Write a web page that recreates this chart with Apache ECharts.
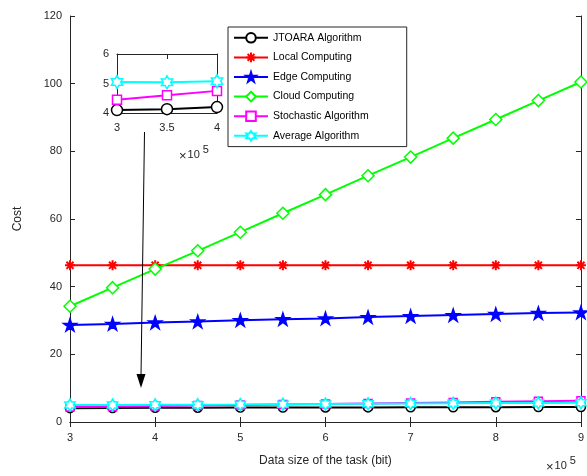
<!DOCTYPE html>
<html>
<head>
<meta charset="utf-8">
<script src="https://cdn.jsdelivr.net/npm/echarts@6/dist/echarts.min.js"></script>
<style>html,body{margin:0;padding:0;background:#fff}#c{width:587px;height:476px}</style>
</head>
<body>
<div id="c"></div>
<script>
const xValues = [3, 3.5, 4, 4.5, 5, 5.5, 6, 6.5, 7, 7.5, 8, 8.5, 9];
const jtoara = [4.1, 4.13, 4.2, 4.22, 4.25, 4.27, 4.3, 4.32, 4.34, 4.36, 4.38, 4.4, 4.42];
const local = [46.3, 46.3, 46.3, 46.3, 46.3, 46.3, 46.3, 46.3, 46.3, 46.3, 46.3, 46.3, 46.3];
const edge = [28.7, 29.0, 29.4, 29.7, 30.1, 30.4, 30.6, 31.0, 31.3, 31.6, 31.9, 32.2, 32.4];
const cloud = [34.2, 39.7, 45.2, 50.6, 56.1, 61.7, 67.2, 72.8, 78.3, 83.9, 89.4, 95.0, 100.5];
const stochastic = [4.45, 4.6, 4.75, 4.9, 5.05, 5.2, 5.35, 5.5, 5.65, 5.8, 5.95, 6.1, 6.25];
const average = [5.05, 5.04, 5.08, 5.12, 5.18, 5.25, 5.32, 5.38, 5.45, 5.52, 5.58, 5.64, 5.7];
const seriesNames = ['JTOARA Algorithm', 'Local Computing', 'Edge Computing', 'Cloud Computing', 'Stochastic Algorithm', 'Average Algorithm'];
const xTicksMain = [3, 9, 1];
const yTicksMain = [0, 120, 20];
const insetX = [3, 4, 0.5];
const insetY = [4, 6, 1];

const FONT = 'Liberation Sans, Arial, sans-serif';
const AX = '#262626';
const ASTER = 'path://M0,-10L0,10M-10,0L10,0M-7.07,-7.07L7.07,7.07M-7.07,7.07L7.07,-7.07';
const STAR5 = 'path://M0,-10L2.245,-3.09L9.511,-3.09L3.633,1.18L5.878,8.09L0,3.82L-5.878,8.09L-3.633,1.18L-9.511,-3.09L-2.245,-3.09Z';
const HEX = 'path://M0,-10L2.887,-5L8.66,-5L5.774,0L8.66,5L2.887,5L0,10L-2.887,5L-8.66,5L-5.774,0L-8.66,-5L-2.887,-5Z';

const styles = [
  {color: '#000000', symbol: 'circle', size: 9, insetSize: 11, fill: '#ffffff'},
  {color: '#ff0000', symbol: ASTER, size: 10, fill: '#ff0000'},
  {color: '#0000ff', symbol: STAR5, size: 13, fill: '#0000ff'},
  {color: '#00ff00', symbol: 'diamond', size: 12, fill: '#ffffff'},
  {color: '#ff00ff', symbol: 'rect', size: 8, insetSize: 9, fill: '#ffffff'},
  {color: '#00ffff', symbol: HEX, size: 12, insetSize: 13, fill: '#ffffff'}
];
const dataSets = [jtoara, local, edge, cloud, stochastic, average];

function pairs(arr, maxX) {
  const out = [];
  for (let i = 0; i < xValues.length; i++) {
    if (maxX === undefined || xValues[i] <= maxX) out.push([xValues[i], arr[i]]);
  }
  return out;
}

function mkSeries(i, xIdx, yIdx, maxX, isInset) {
  const s = styles[i];
  return {
    name: isInset ? seriesNames[i] + ' ' : seriesNames[i],
    type: 'line',
    xAxisIndex: xIdx, yAxisIndex: yIdx,
    data: pairs(dataSets[i], maxX),
    symbol: s.symbol, symbolSize: isInset ? s.insetSize : s.size, symbolKeepAspect: true,
    showAllSymbol: true,
    lineStyle: {color: s.color, width: 2},
    itemStyle: {color: s.fill, borderColor: s.color, borderWidth: s.symbol === ASTER ? 2 : 1.5},
    emphasis: {disabled: true},
    animation: false,
    clip: false,
    z: isInset ? 15 + i : 2 + i
  };
}

const series = [];
for (let i = 0; i < 6; i++) series.push(mkSeries(i, 0, 0));
[0, 4, 5].forEach(i => series.push(mkSeries(i, 2, 2, 4, true)));

const axLine = {show: true, lineStyle: {color: AX, width: 1}};
const tickIn = {show: true, inside: true, length: 5, lineStyle: {color: AX}};

const option = {
  animation: false,
  backgroundColor: '#ffffff',
  textStyle: {fontFamily: FONT},
  grid: [
    {left: 70, right: 1, top: 16, bottom: 54, containLabel: false, show: false},
    {left: 117, top: 54, width: 100, height: 59, show: true, backgroundColor: '#ffffff', borderWidth: 0, z: 10}
  ],
  xAxis: [
    {type: 'value', gridIndex: 0, min: xTicksMain[0], max: xTicksMain[1], interval: xTicksMain[2],
      axisLine: axLine, axisTick: tickIn, splitLine: {show: false},
      axisLabel: {color: AX, fontSize: 11, margin: 10, fontFamily: FONT},
      name: 'Data size of the task (bit)', nameLocation: 'middle', nameGap: 33,
      nameTextStyle: {color: AX, fontSize: 12, fontFamily: FONT}},
    {type: 'value', gridIndex: 0, position: 'top', min: xTicksMain[0], max: xTicksMain[1], interval: xTicksMain[2],
      axisLine: axLine, axisTick: tickIn, axisLabel: {show: false}, splitLine: {show: false}},
    {type: 'value', gridIndex: 1, min: insetX[0], max: insetX[1], interval: insetX[2],
      axisLine: axLine, axisTick: tickIn, splitLine: {show: false}, z: 11,
      axisLabel: {color: AX, fontSize: 11, margin: 9, fontFamily: FONT}},
    {type: 'value', gridIndex: 1, position: 'top', min: insetX[0], max: insetX[1], interval: insetX[2],
      axisLine: axLine, axisTick: tickIn, axisLabel: {show: false}, splitLine: {show: false}, z: 11}
  ],
  yAxis: [
    {type: 'value', gridIndex: 0, min: yTicksMain[0], max: yTicksMain[1], interval: yTicksMain[2],
      axisLine: axLine, axisTick: tickIn, splitLine: {show: false},
      axisLabel: {color: AX, fontSize: 11, margin: 8, fontFamily: FONT},
      name: 'Cost', nameLocation: 'middle', nameGap: 46,
      nameTextStyle: {color: AX, fontSize: 12, fontFamily: FONT}},
    {type: 'value', gridIndex: 0, position: 'right', min: yTicksMain[0], max: yTicksMain[1], interval: yTicksMain[2],
      axisLine: axLine, axisTick: tickIn, axisLabel: {show: false}, splitLine: {show: false}},
    {type: 'value', gridIndex: 1, min: insetY[0], max: insetY[1], interval: insetY[2],
      axisLine: axLine, axisTick: tickIn, splitLine: {show: false}, z: 11,
      axisLabel: {color: AX, fontSize: 11, margin: 8, fontFamily: FONT}},
    {type: 'value', gridIndex: 1, position: 'right', min: insetY[0], max: insetY[1], interval: insetY[2],
      axisLine: axLine, axisTick: tickIn, axisLabel: {show: false}, splitLine: {show: false}, z: 11}
  ],
  legend: {
    data: seriesNames,
    orient: 'vertical',
    left: 228, top: 27,
    padding: [5, 38, 5, 5],
    itemWidth: 34, itemHeight: 12, itemGap: 8,
    borderColor: AX, borderWidth: 1, backgroundColor: '#ffffff',
    textStyle: {color: '#000', fontSize: 10.5, fontFamily: FONT},
    selectedMode: false,
    z: 20
  },
  graphic: [
    {type: 'line', shape: {x1: 144.5, y1: 132, x2: 141, y2: 376}, style: {stroke: '#000', lineWidth: 1}, z: 30},
    {type: 'polygon', shape: {points: [[136.5, 374], [145.5, 374], [141, 388]]}, style: {fill: '#000'}, z: 30},
    {type: 'text', left: 546, top: 455, style: {text: '{a|×}{b|10}{c|5}', rich: {
      a: {fontSize: 13, fontFamily: FONT, fill: AX, verticalAlign: 'bottom', padding: [0, 1, 0, 0]},
      b: {fontSize: 11, fontFamily: FONT, fill: AX, verticalAlign: 'bottom', padding: [0, 3, 3, 0]},
      c: {fontSize: 11, fontFamily: FONT, fill: AX, verticalAlign: 'top', padding: [0, 0, 8, 0]}
    }}, z: 30},
    {type: 'text', left: 179, top: 144, style: {text: '{a|×}{b|10}{c|5}', rich: {
      a: {fontSize: 13, fontFamily: FONT, fill: AX, verticalAlign: 'bottom', padding: [0, 1, 0, 0]},
      b: {fontSize: 11, fontFamily: FONT, fill: AX, verticalAlign: 'bottom', padding: [0, 3, 3, 0]},
      c: {fontSize: 11, fontFamily: FONT, fill: AX, verticalAlign: 'top', padding: [0, 0, 8, 0]}
    }}, z: 30}
  ],
  series: series
};

const chart = echarts.init(document.getElementById('c'), null, {renderer: 'canvas'});
chart.setOption(option);
</script>
</body>
</html>
